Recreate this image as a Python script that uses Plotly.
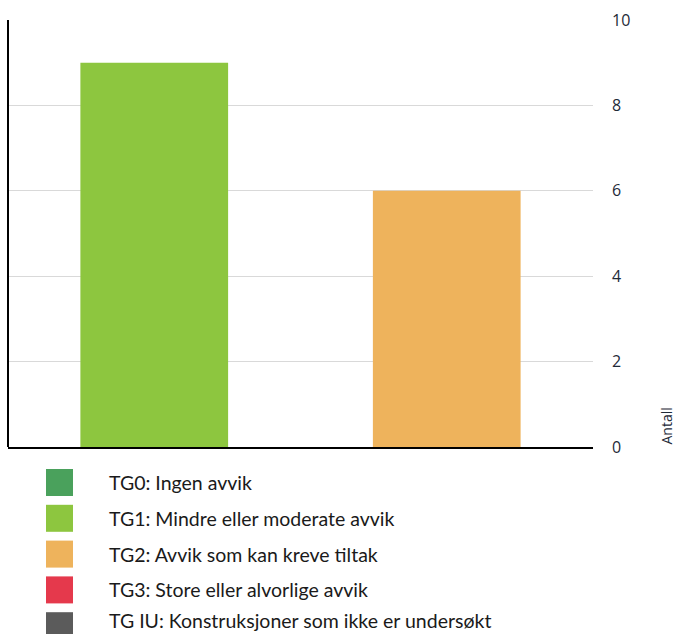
import plotly.graph_objects as go

categories = ["TG1", "TG2"]
values = [9, 6]
bar_colors = ["#8dc63f", "#eeb35c"]

legend_labels = [
    "TG0: Ingen avvik",
    "TG1: Mindre eller moderate avvik",
    "TG2: Avvik som kan kreve tiltak",
    "TG3: Store eller alvorlige avvik",
    "TG IU: Konstruksjoner som ikke er undersøkt",
]
legend_colors = ["#4aa15c", "#8dc63f", "#eeb35c", "#e5394c", "#5b5b5b"]

y_ticks = [0, 2, 4, 6, 8, 10]

W, H = 690, 634
ml, mr, mt, mb = 8, 97, 20, 187

fig = go.Figure()
fig.add_trace(go.Bar(
    x=categories, y=values, marker=dict(color=bar_colors, line=dict(width=0)),
    width=0.505, showlegend=False, hoverinfo="skip",
))

fig.update_layout(
    width=W, height=H,
    margin=dict(l=ml, r=mr, t=mt, b=mb),
    paper_bgcolor="white", plot_bgcolor="white",
    font=dict(family="Open Sans", color="#1e2a38"),
    xaxis=dict(showticklabels=False, showgrid=False, zeroline=False,
               showline=True, linecolor="black", linewidth=2, ticks=""),
    yaxis=dict(side="right", range=[0, 10], tickvals=y_ticks,
               showgrid=True, gridcolor="#d9d9d9", gridwidth=1,
               zeroline=False, showline=False, ticks="",
               ticklabelstandoff=18,
               tickfont=dict(size=16, family="Open Sans", color="#1e2a38")),
)

# left axis line
fig.add_shape(type="line", xref="paper", yref="paper", x0=0, x1=0, y0=0, y1=1,
              line=dict(color="black", width=2))

# axis title
fig.add_annotation(text="Antall", xref="paper", yref="paper",
                   x=(666 - ml) / (W - ml - mr), y=0, xanchor="center", yanchor="bottom",
                   textangle=-90, showarrow=False,
                   font=dict(size=14, family="Open Sans", color="#1e2a38"))

# legend drawn below plot
pw = W - ml - mr
ph = H - mt - mb
def px_to_paper_x(px):
    return (px - ml) / pw
def py_to_paper_y(py):
    return (H - mb - py) / ph

for i, (lab, col) in enumerate(zip(legend_labels, legend_colors)):
    top = 469 + i * 35.8
    fig.add_shape(type="rect", xref="paper", yref="paper",
                  x0=px_to_paper_x(46), x1=px_to_paper_x(73),
                  y0=py_to_paper_y(top + 27), y1=py_to_paper_y(top),
                  fillcolor=col, line=dict(width=0))
    cy = min(top + 13.5, H - 14)
    fig.add_annotation(text=lab, xref="paper", yref="paper",
                       x=px_to_paper_x(107), y=py_to_paper_y(cy),
                       xanchor="left", yanchor="middle", showarrow=False,
                       font=dict(size=19.5, family="Lato", color="#1a1a1a"))

fig.write_html("out.html")
